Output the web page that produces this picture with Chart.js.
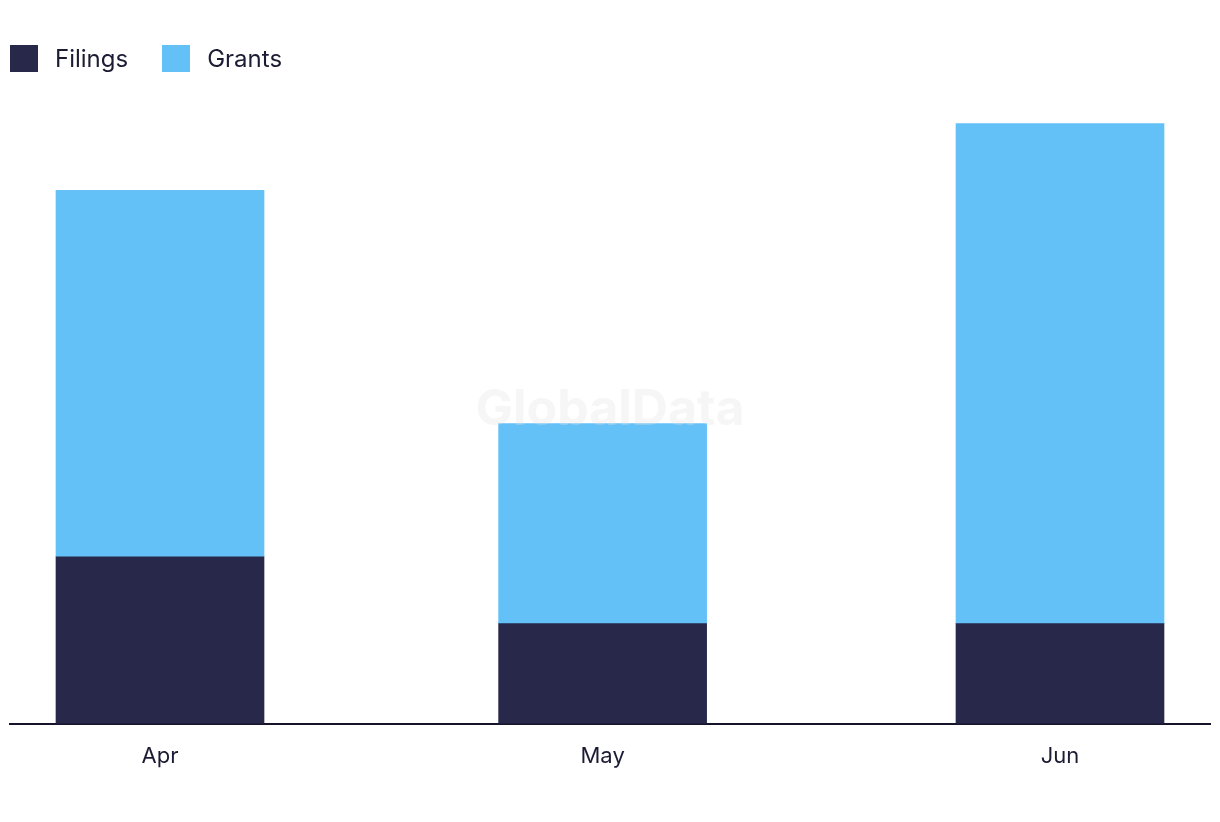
<!DOCTYPE html>
<html>
<head>
<meta charset="utf-8">
<script src="https://cdn.jsdelivr.net/npm/chart.js@4.4.1/dist/chart.umd.min.js"></script>
<style>
  html, body { margin: 0; padding: 0; background: #fff; }
  #wrap { position: relative; width: 1220px; height: 822px; }
  #chart { display: block; }
  #legend { position: absolute; left: 10px; top: 45px; display: flex; font-family: Inter, "Noto Sans", sans-serif; font-size: 24px; color: #1b1b33; }
  .item { display: flex; align-items: center; margin-right: 34px; height: 27px; }
  .box { width: 28px; height: 27px; margin-right: 17px; }
</style>
</head>
<body>
<div id="wrap">
  <div id="legend"></div>
  <canvas id="chart" width="1220" height="822"></canvas>
</div>
<script>
// months on a day axis (days since Apr 1), so spacing follows month length
const months = ['Apr', 'May', 'Jun'];
const days = [0, 30, 61];
const filings = [5, 3, 3];
const grants = [11, 6, 15];

const toPoints = vals => vals.map((v, i) => ({x: days[i], y: v}));

const watermark = {
  id: 'watermark',
  afterDatasetsDraw(chart) {
    const ctx = chart.ctx;
    ctx.save();
    ctx.font = 'bold 50px Inter, "Noto Sans", sans-serif';
    ctx.fillStyle = 'rgba(225,225,225,0.3)';
    ctx.textAlign = 'center';
    ctx.textBaseline = 'middle';
    ctx.fillText('GlobalData', 610, 410);
    ctx.restore();
  }
};

const htmlLegend = {
  id: 'htmlLegend',
  afterUpdate(chart) {
    const el = document.getElementById('legend');
    el.innerHTML = '';
    chart.data.datasets.forEach(ds => {
      const item = document.createElement('div');
      item.className = 'item';
      const box = document.createElement('span');
      box.className = 'box';
      box.style.background = ds.backgroundColor;
      const txt = document.createElement('span');
      txt.textContent = ds.label;
      item.appendChild(box);
      item.appendChild(txt);
      el.appendChild(item);
    });
  }
};

var ctx = document.getElementById('chart').getContext('2d');
var myChart = new Chart(ctx, {
  type: 'bar',
  data: {
    datasets: [
    {
      data: toPoints(filings),
      label: 'Filings',
      backgroundColor: '#28284b',
      barThickness: 208
    },
    {
      data: toPoints(grants),
      label: 'Grants',
      backgroundColor: '#63c1f8',
      barThickness: 208
    }
    ]
  },
  options: {
    responsive: false,
    animation: false,
    layout: {
      padding: {left: 10, right: 10, top: 57, bottom: 40}
    },
    scales: {
      x: {
        type: 'linear',
        stacked: true,
        min: -10.167,
        max: 71.167,
        offset: false,
        grid: {
          display: false
        },
        border: {
          display: true,
          color: '#15142a',
          width: 2
        },
        afterBuildTicks: scale => {
          scale.ticks = days.map(d => ({value: d}));
        },
        ticks: {
          padding: 12,
          color: '#1b1b33',
          font: {family: 'Inter, "Noto Sans", sans-serif', size: 22},
          maxRotation: 0,
          callback: value => months[days.indexOf(value)]
        }
      },
      y: {
        stacked: true,
        display: false,
        min: 0,
        max: 20
      }
    },
    plugins: {
      legend: {display: false},
      tooltip: {enabled: false}
    }
  },
  plugins: [htmlLegend, watermark]
});
</script>
</body>
</html>
